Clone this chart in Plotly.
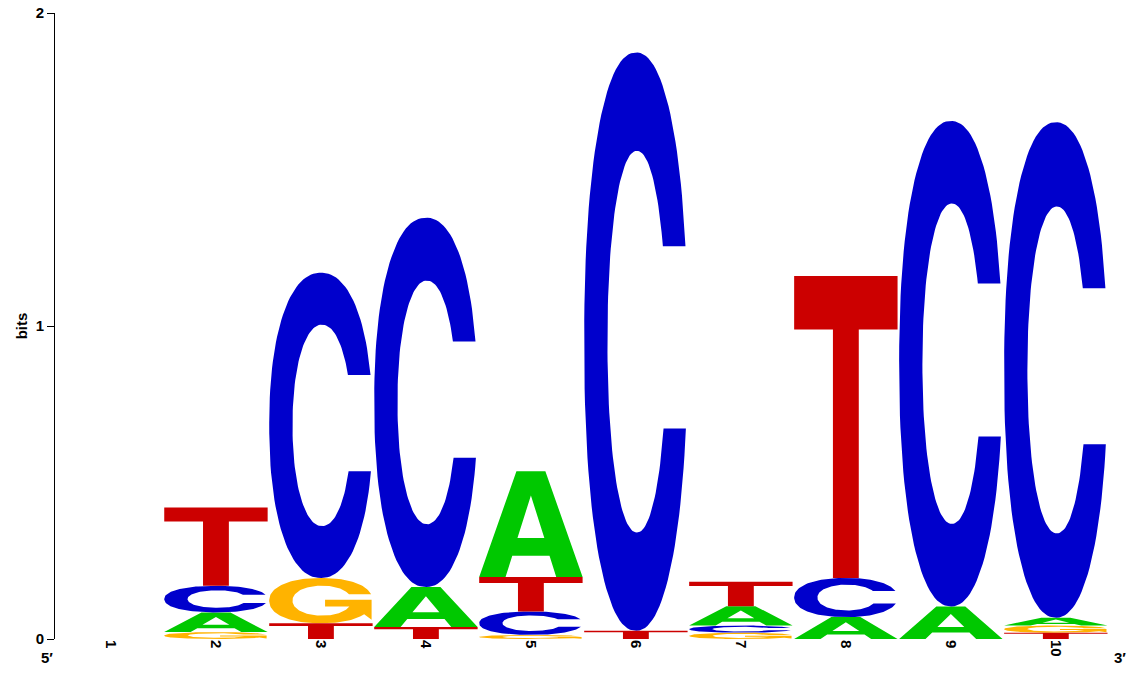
import numpy as np
import plotly.graph_objects as go

# sequence logo, information content (bits) per base and position
positions = [1, 2, 3, 4, 5, 6, 7, 8, 9, 10]
bits_A = [0, 0.063, 0, 0.128, 0.338, 0, 0.062, 0.070, 0.104, 0.025]
bits_C = [0, 0.085, 0.975, 1.180, 0.075, 1.848, 0.023, 0.125, 1.551, 1.583]
bits_G = [0, 0.022, 0.145, 0, 0.013, 0, 0.020, 0, 0, 0.023]
bits_T = [0, 0.250, 0.050, 0.038, 0.110, 0.026, 0.078, 0.965, 0, 0.020]

colors = {"A": "#00C800", "C": "#0000CC", "G": "#FFB300", "T": "#CC0000"}
letter_w = 0.985


def sell(cx, cy, a, b, t, n):
    c, s = np.cos(t), np.sin(t)
    return (cx + a * np.sign(c) * np.abs(c) ** (2 / n),
            cy + b * np.sign(s) * np.abs(s) ** (2 / n))


def angle_at(y, cy, b, n):
    d = (y - cy) / b
    return np.arcsin(np.sign(d) * np.abs(d) ** (n / 2))


# glyph outlines in a unit box
def glyph_T():
    return ([0, 1, 1, 0.625, 0.625, 0.375, 0.375, 0],
            [1, 1, 0.823, 0.823, 0, 0, 0.823, 0.823])


def glyph_A():
    return ([0, 0.36, 0.64, 1, 0.745, 0.68, 0.32, 0.255],
            [0, 1, 1, 0, 0, 0.2, 0.2, 0])


def hole_A():
    return [0.37, 0.5, 0.63], [0.37, 0.77, 0.37]


def glyph_C():
    no, ni = 2.2, 2.1
    icx, ia, ib = 0.51, 0.285, 0.33
    tu = angle_at(0.665, 0.5, 0.5, no)
    tl = angle_at(0.35, 0.5, 0.5, no)
    t1 = np.linspace(tu, 2 * np.pi + tl, 120)
    xo, yo = sell(0.5, 0.5, 0.5, 0.5, t1, no)
    iu = angle_at(0.665, 0.5, ib, ni)
    il = angle_at(0.35, 0.5, ib, ni)
    t2 = np.linspace(2 * np.pi + il, iu, 120)
    xi, yi = sell(icx, 0.5, ia, ib, t2, ni)
    return list(xo) + list(xi), list(yo) + list(yi)


def glyph_G():
    no, ni = 2.2, 2.1
    icx, ia, ib = 0.51, 0.285, 0.33
    tu = angle_at(0.64, 0.5, 0.5, no)
    tr = angle_at(0.2, 0.5, 0.5, no)
    t1 = np.linspace(tu, 2 * np.pi + tr, 120)
    xo, yo = sell(0.5, 0.5, 0.5, 0.5, t1, no)
    xs = list(xo) + [0.99, 0.99, 0.54, 0.54]
    ys = list(yo) + [0.08, 0.52, 0.52, 0.37]
    il = angle_at(0.37, 0.5, ib, ni)
    iu = angle_at(0.64, 0.5, ib, ni)
    t2 = np.linspace(2 * np.pi + il, iu, 120)
    xi, yi = sell(icx, 0.5, ia, ib, t2, ni)
    return xs + list(xi), ys + list(yi)


glyphs = {"A": glyph_A(), "C": glyph_C(), "G": glyph_G(), "T": glyph_T()}
bits = {"A": bits_A, "C": bits_C, "G": bits_G, "T": bits_T}

paths = {b: ([], []) for b in "ACGT"}
holes = ([], [])
for i, p in enumerate(positions):
    stack = sorted([(bits[b][i], b) for b in "ACGT"], key=lambda v: v[0])
    base = 0.0
    for h, b in stack:
        if h <= 0:
            continue
        gx, gy = glyphs[b]
        x0 = p - letter_w / 2
        paths[b][0].extend([x0 + g * letter_w for g in gx] + [None])
        paths[b][1].extend([base + g * h for g in gy] + [None])
        if b == "A":
            hx, hy = hole_A()
            holes[0].extend([x0 + g * letter_w for g in hx] + [None])
            holes[1].extend([base + g * h for g in hy] + [None])
        base += h

fig = go.Figure()
for b in "ACGT":
    fig.add_trace(go.Scatter(x=paths[b][0], y=paths[b][1], mode="lines",
                             fill="toself", fillcolor=colors[b],
                             line=dict(width=0, color=colors[b]),
                             hoverinfo="skip", showlegend=False))
fig.add_trace(go.Scatter(x=holes[0], y=holes[1], mode="lines", fill="toself",
                         fillcolor="white", line=dict(width=0, color="white"),
                         hoverinfo="skip", showlegend=False))

font = dict(family="Liberation Sans, Arial, sans-serif", size=15,
            color="black", weight="bold")

fig.update_layout(
    width=1133, height=680,
    margin=dict(l=55, r=25, t=13, b=41),
    plot_bgcolor="white", paper_bgcolor="white",
    font=font,
    xaxis=dict(range=[0.467, 10.497], tickvals=positions,
               ticktext=[str(p) for p in positions], tickangle=90,
               showline=False, showgrid=False, zeroline=False, ticks="",
               tickfont=font, automargin=False, ticklabeloverflow="allow"),
    yaxis=dict(range=[0, 2], tickvals=[0, 1, 2], ticks="outside", ticklen=7,
               tickcolor="black", showline=True, linecolor="black",
               linewidth=1, showgrid=False, zeroline=False, tickfont=font,
               automargin=False, ticklabeloverflow="allow",
               title=dict(text="bits", font=font, standoff=4)),
    annotations=[
        dict(text="5′", xref="paper", yref="paper", x=-0.0076, y=-0.030,
             showarrow=False, font=font, xanchor="center", yanchor="middle"),
        dict(text="3′", xref="paper", yref="paper", x=1.0114, y=-0.030,
             showarrow=False, font=font, xanchor="center", yanchor="middle"),
    ],
)

fig.write_html("out.html", config={"displayModeBar": False},
               post_script="document.body.style.margin = '0';")
